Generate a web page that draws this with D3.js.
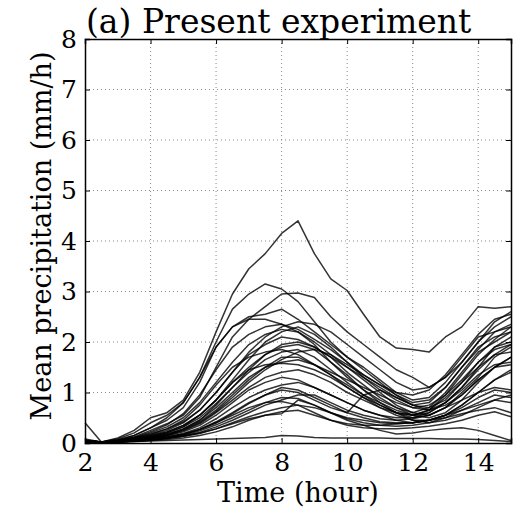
<!DOCTYPE html>
<html>
<head>
<meta charset="utf-8">
<script src="https://cdn.jsdelivr.net/npm/d3@7"></script>
<style>
  body { margin: 0; background: #fff; }
  text { font-family: "DejaVu Serif", serif; fill: #000; }
</style>
</head>
<body>
<div id="chart"></div>
<script>
// time axis, every half hour from 2 to 15
const times = d3.range(2, 15.01, 0.5);
const xTicks = [2, 4, 6, 8, 10, 12, 14];
const yTicks = [0, 1, 2, 3, 4, 5, 6, 7, 8];

// one row per ensemble member
const series = [
  [0.08,0.02,0.10,0.25,0.50,0.60,0.85,1.40,2.20,2.95,3.45,3.75,4.15,4.40,3.75,3.25,3.02,2.55,2.10,1.88,1.85,1.80,2.10,2.30,2.70,2.67,2.70],
  [0.06,0.02,0.08,0.20,0.40,0.55,0.80,1.30,2.00,2.65,2.95,3.15,3.05,2.80,2.40,2.00,1.70,1.50,1.25,1.00,0.85,0.90,1.20,1.60,2.00,2.30,2.50],
  [0.05,0.02,0.05,0.12,0.25,0.38,0.55,0.90,1.50,2.10,2.45,2.70,2.95,2.97,2.88,2.50,2.20,1.95,1.70,1.45,1.30,1.10,1.30,1.70,2.10,2.20,2.30],
  [0.05,0.02,0.06,0.15,0.30,0.45,0.70,1.20,1.90,2.30,2.50,2.55,2.65,2.45,2.20,1.95,1.70,1.45,1.20,0.95,0.75,0.80,1.10,1.50,1.90,2.10,2.20],
  [0.05,0.02,0.06,0.15,0.30,0.50,0.80,1.30,1.90,2.30,2.45,2.45,2.35,2.20,1.95,1.60,1.30,1.05,0.85,0.70,0.60,0.70,1.00,1.40,1.80,2.00,2.20],
  [0.05,0.02,0.05,0.10,0.18,0.28,0.42,0.65,1.00,1.40,1.80,2.10,2.30,2.40,2.35,2.20,1.95,1.70,1.45,1.20,1.05,1.10,1.30,1.60,2.00,2.40,2.60],
  [0.04,0.02,0.04,0.08,0.14,0.22,0.35,0.55,0.85,1.25,1.65,2.00,2.20,2.30,2.15,1.90,1.60,1.30,1.05,0.85,0.70,0.65,0.80,1.10,1.50,1.90,2.10],
  [0.04,0.02,0.05,0.10,0.20,0.32,0.50,0.80,1.20,1.60,1.95,2.15,2.25,2.20,2.00,1.75,1.50,1.25,1.00,0.75,0.60,0.55,0.70,1.00,1.30,1.70,1.90],
  [0.04,0.02,0.04,0.08,0.15,0.25,0.40,0.65,1.00,1.40,1.75,1.95,2.10,2.05,1.90,1.70,1.40,1.15,0.90,0.70,0.55,0.50,0.60,0.85,1.20,1.50,1.70],
  [0.03,0.02,0.03,0.06,0.10,0.17,0.28,0.45,0.75,1.10,1.45,1.75,1.95,2.00,1.90,1.70,1.50,1.30,1.10,0.90,0.75,0.70,0.85,1.20,1.60,1.90,2.00],
  [0.04,0.02,0.04,0.09,0.17,0.28,0.45,0.75,1.15,1.50,1.70,1.80,1.85,1.75,1.55,1.35,1.15,0.95,0.80,0.65,0.55,0.60,0.80,1.10,1.45,1.75,1.95],
  [0.03,0.02,0.03,0.06,0.11,0.18,0.28,0.45,0.70,1.00,1.30,1.50,1.60,1.65,1.55,1.40,1.25,1.10,0.95,0.80,0.70,0.75,0.95,1.25,1.60,1.85,1.95],
  [0.03,0.02,0.03,0.06,0.12,0.20,0.32,0.55,0.85,1.20,1.45,1.55,1.58,1.55,1.45,1.30,1.10,0.90,0.75,0.60,0.50,0.55,0.70,0.95,1.25,1.50,1.70],
  [0.03,0.02,0.03,0.05,0.09,0.15,0.24,0.38,0.60,0.85,1.10,1.30,1.40,1.45,1.35,1.20,1.00,0.85,0.70,0.60,0.55,0.65,0.90,1.20,1.50,1.75,1.80],
  [0.03,0.02,0.03,0.05,0.09,0.14,0.22,0.35,0.55,0.80,1.05,1.20,1.30,1.25,1.10,0.95,0.80,0.65,0.55,0.45,0.40,0.45,0.55,0.75,1.00,1.25,1.40],
  [0.02,0.02,0.03,0.05,0.08,0.12,0.19,0.30,0.48,0.70,0.90,1.05,1.15,1.20,1.10,0.95,0.80,0.65,0.55,0.50,0.50,0.60,0.80,1.05,1.35,1.55,1.60],
  [0.02,0.02,0.02,0.04,0.07,0.11,0.17,0.27,0.42,0.60,0.80,0.95,1.10,1.05,0.90,0.75,0.60,0.50,0.42,0.40,0.40,0.45,0.55,0.70,0.90,1.05,1.00],
  [0.02,0.02,0.02,0.04,0.06,0.09,0.14,0.21,0.32,0.45,0.60,0.75,0.85,0.95,0.95,0.80,0.65,0.55,0.48,0.45,0.48,0.55,0.70,0.85,1.00,1.10,1.05],
  [0.02,0.02,0.02,0.04,0.06,0.10,0.15,0.24,0.36,0.50,0.65,0.80,0.90,0.88,0.75,0.60,0.48,0.40,0.35,0.33,0.35,0.40,0.50,0.65,0.80,0.95,0.90],
  [0.02,0.02,0.03,0.05,0.08,0.12,0.18,0.27,0.40,0.55,0.70,0.80,0.82,0.75,0.60,0.45,0.38,0.35,0.35,0.38,0.40,0.45,0.55,0.65,0.75,0.85,0.80],
  [0.02,0.02,0.02,0.03,0.05,0.07,0.10,0.15,0.22,0.32,0.45,0.55,0.62,0.65,0.55,0.45,0.35,0.30,0.28,0.28,0.30,0.33,0.38,0.45,0.55,0.62,0.52],
  [0.40,0.02,0.03,0.05,0.07,0.10,0.14,0.20,0.28,0.38,0.48,0.55,0.58,0.85,0.75,0.60,0.45,0.35,0.25,0.18,0.20,0.25,0.28,0.30,0.25,0.15,0.05],
  [0.02,0.01,0.02,0.03,0.04,0.05,0.06,0.07,0.08,0.09,0.10,0.11,0.15,0.14,0.11,0.10,0.10,0.10,0.10,0.09,0.09,0.09,0.08,0.08,0.07,0.05,0.03],
  [0.03,0.02,0.03,0.06,0.10,0.16,0.25,0.40,0.62,0.90,1.20,1.45,1.65,1.80,1.85,1.75,1.55,1.35,1.15,0.95,0.80,0.85,1.10,1.50,1.85,2.20,2.35],
  [0.03,0.02,0.04,0.08,0.14,0.22,0.35,0.55,0.85,1.20,1.50,1.75,1.90,1.95,1.85,1.60,1.35,1.05,0.80,0.60,0.45,0.40,0.45,0.55,0.70,0.85,0.95],
  [0.02,0.02,0.02,0.04,0.07,0.11,0.17,0.26,0.40,0.58,0.78,0.95,1.05,1.00,0.85,0.70,0.60,0.95,1.05,0.90,0.75,0.65,0.75,0.95,1.25,1.50,1.55],
  [0.03,0.02,0.03,0.07,0.12,0.20,0.32,0.50,0.78,1.10,1.40,1.65,1.80,1.85,1.70,1.45,1.20,0.95,0.75,0.60,0.55,0.65,0.95,1.35,1.75,2.05,2.30],
  [0.04,0.02,0.05,0.11,0.22,0.36,0.58,0.95,1.45,1.90,2.15,2.30,2.35,2.25,2.05,1.85,1.60,1.35,1.15,1.00,0.95,1.05,1.35,1.75,2.15,2.45,2.55],
  [0.02,0.02,0.02,0.04,0.06,0.09,0.13,0.19,0.28,0.40,0.52,0.62,0.70,0.75,0.70,0.60,0.50,0.45,0.40,0.38,0.40,0.45,0.50,0.58,0.65,0.70,0.60],
  [0.03,0.02,0.03,0.06,0.10,0.16,0.26,0.42,0.65,0.95,1.25,1.50,1.70,1.70,1.55,1.35,1.10,0.90,0.70,0.55,0.45,0.45,0.55,0.75,1.00,1.25,1.45]
];

const W = 514, H = 512;
const margin = { top: 39, right: 3, bottom: 69, left: 85 };
const width = W - margin.left - margin.right;
const height = H - margin.top - margin.bottom;

const svg = d3.select("#chart").append("svg")
  .attr("width", W)
  .attr("height", H);

const g = svg.append("g")
  .attr("transform", `translate(${margin.left},${margin.top})`);

const x = d3.scaleLinear().domain([2, 15]).range([0, width]);
const y = d3.scaleLinear().domain([0, 8]).range([height, 0]);

// dotted grid
g.append("g").selectAll("line")
  .data(xTicks.slice(1))
  .join("line")
    .attr("x1", d => x(d)).attr("x2", d => x(d))
    .attr("y1", 0).attr("y2", height)
    .attr("stroke", "#888").attr("stroke-width", 1)
    .attr("stroke-dasharray", "1,3");
g.append("g").selectAll("line")
  .data(yTicks.slice(1, -1))
  .join("line")
    .attr("x1", 0).attr("x2", width)
    .attr("y1", d => y(d)).attr("y2", d => y(d))
    .attr("stroke", "#888").attr("stroke-width", 1)
    .attr("stroke-dasharray", "1,3");

// lines
const line = d3.line()
  .x((d, i) => x(times[i]))
  .y(d => y(d));

g.append("g")
  .selectAll("path")
  .data(series)
  .join("path")
    .attr("fill", "none")
    .attr("stroke", "#000")
    .attr("stroke-opacity", 0.8)
    .attr("stroke-width", 1.5)
    .attr("stroke-linejoin", "round")
    .attr("d", line);

// axes: ticks point inward, labels big serif
const xAxis = g.append("g")
  .attr("transform", `translate(0,${height})`)
  .call(d3.axisBottom(x).tickValues(xTicks).tickSize(-5).tickPadding(10));
const yAxis = g.append("g")
  .call(d3.axisLeft(y).tickValues(yTicks).tickSize(-5).tickPadding(8));
g.append("g")
  .call(d3.axisTop(x).tickValues(xTicks).tickSize(-5).tickFormat(""));
g.append("g")
  .attr("transform", `translate(${width},0)`)
  .call(d3.axisRight(y).tickValues(yTicks).tickSize(-5).tickFormat(""));

g.selectAll(".domain").attr("stroke", "#000").attr("stroke-width", 1.5);
g.selectAll(".tick line").attr("stroke", "#000");
xAxis.selectAll("text").style("font-size", "25px").attr("dy", "0.71em")
  .style("font-family", "DejaVu Serif");
yAxis.selectAll("text").style("font-size", "25px")
  .style("font-family", "DejaVu Serif");

// title and axis labels
svg.append("text")
  .attr("x", margin.left + 1)
  .attr("y", 33)
  .style("font-size", "33px")
  .text("(a) Present experiment");

svg.append("text")
  .attr("x", margin.left + width / 2)
  .attr("y", 502)
  .attr("text-anchor", "middle")
  .style("font-size", "27px")
  .text("Time (hour)");

svg.append("text")
  .attr("transform", "rotate(-90)")
  .attr("x", -236)
  .attr("y", 51)
  .attr("text-anchor", "middle")
  .style("font-size", "27px")
  .text("Mean precipitation (mm/h)");
</script>
</body>
</html>
